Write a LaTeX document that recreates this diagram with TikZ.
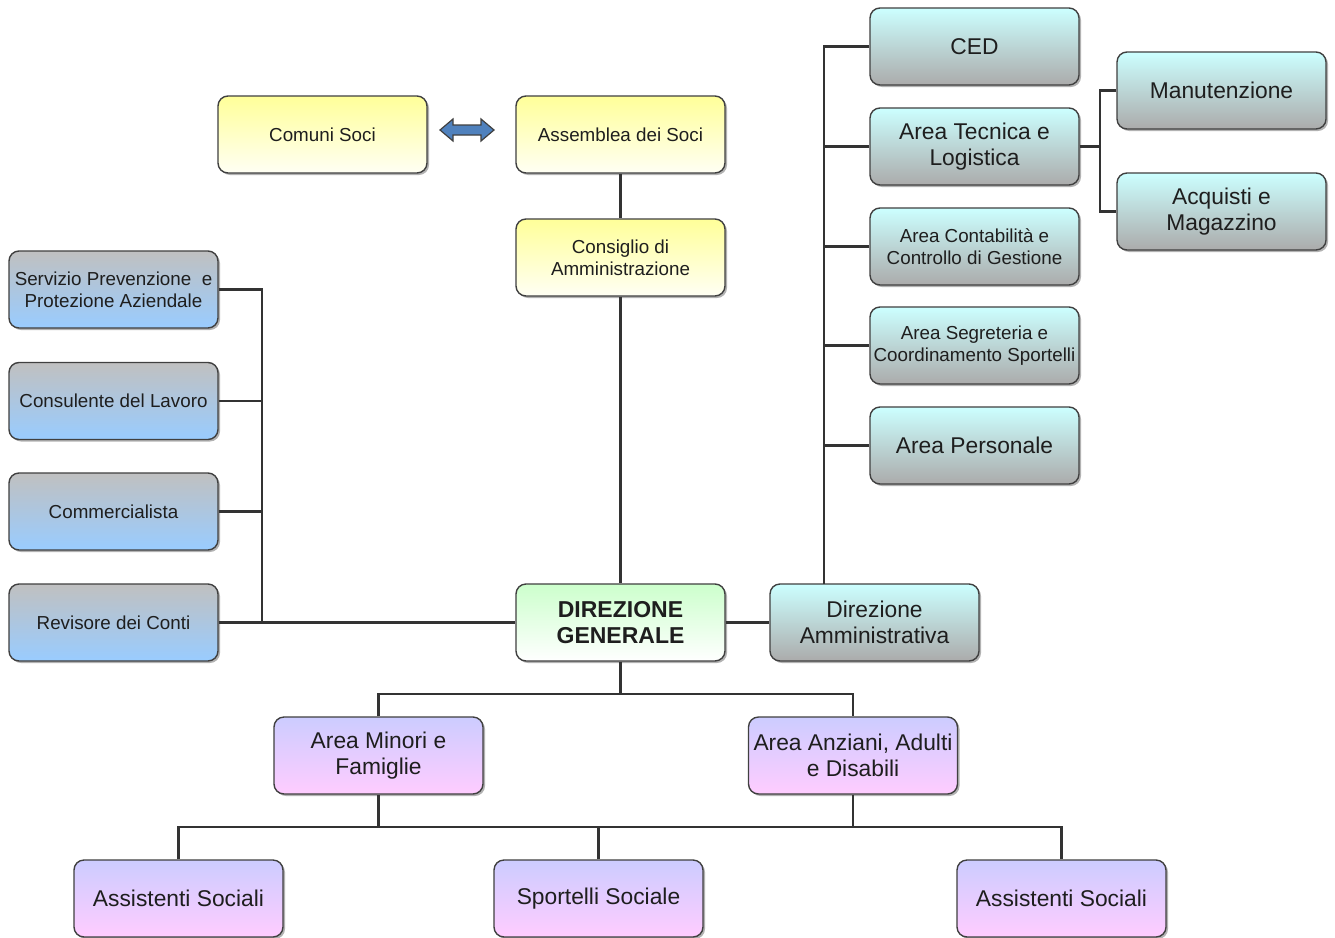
\documentclass[tikz,border=0pt]{standalone}
\usepackage{fontspec}
\setmainfont{Liberation Sans}
\usetikzlibrary{shadows}
\definecolor{boxline}{HTML}{404040}
\definecolor{conn}{HTML}{333333}
\definecolor{ylw}{HTML}{FFFF99}
\definecolor{ylwb}{HTML}{FFFFF4}
\definecolor{gryt}{HTML}{C0C0C0}
\definecolor{blub}{HTML}{99CCFF}
\definecolor{cyant}{HTML}{CCFFFF}
\definecolor{cyanb}{HTML}{ABABAB}
\definecolor{grnt}{HTML}{CCFFCC}
\definecolor{lavt}{HTML}{CCCCFF}
\definecolor{pinkb}{HTML}{FFCCFF}
\definecolor{arrblue}{HTML}{4F81BD}
\definecolor{txt}{HTML}{1E1E1E}
\tikzset{
  orgbox/.style={rectangle, rounded corners=10, draw=boxline, line width=1.4,
    minimum width=209, minimum height=77, inner sep=1, align=center, text=txt,
    drop shadow={shadow xshift=2pt, shadow yshift=-2pt, fill=black, opacity=0.3}},
  smalltxt/.style={font=\fontsize{18.8}{22}\selectfont},
  bigtxt/.style={font=\fontsize{22.8}{26}\selectfont},
  yellowbox/.style={orgbox, smalltxt, top color=ylw, bottom color=ylwb},
  bluebox/.style={orgbox, smalltxt, top color=gryt, bottom color=blub},
  cyanbox/.style={orgbox, top color=cyant, bottom color=cyanb},
  greenbox/.style={orgbox, top color=grnt, bottom color=white,
    font=\fontsize{23}{26}\selectfont\bfseries},
  purplebox/.style={orgbox, bigtxt, top color=lavt, bottom color=pinkb},
  link/.style={draw=conn, line width=2.4}
}
\begin{document}
\begin{tikzpicture}[x=1pt, y=-1pt]
\useasboundingbox[fill=white] (0,0) rectangle (1335,937);

% top yellow
\node[yellowbox] (cs)  at (322.5,134.5) {Comuni Soci};
\node[yellowbox] (ass) at (620.5,134.5) {Assemblea dei Soci};
\node[yellowbox] (cda) at (620.5,257.5) {Consiglio di\\Amministrazione};

% double arrow
\filldraw[fill=arrblue, draw=black!75, line width=1.2]
  (440,130) -- (453,119) -- (453,125) -- (481,125) -- (481,119) -- (494,130)
  -- (481,141) -- (481,135) -- (453,135) -- (453,141) -- cycle;

% left column
\node[bluebox] (spp) at (113.5,289.5) {Servizio Prevenzione \ e\\Protezione Aziendale};
\node[bluebox] (cdl) at (113.5,401)   {Consulente del Lavoro};
\node[bluebox] (com) at (113.5,511.5) {Commercialista};
\node[bluebox] (rev) at (113.5,622.5) {Revisore dei Conti};

% centre
\node[greenbox] (dg) at (620.5,622.5) {DIREZIONE\\GENERALE};
\node[cyanbox, bigtxt] (da) at (874.5,622.5) {Direzione\\Amministrativa};

% right column
\node[cyanbox, bigtxt]   (ced) at (974.5,46.5)  {CED};
\node[cyanbox, bigtxt]   (tec) at (974.5,146.5) {Area Tecnica e\\Logistica};
\node[cyanbox, smalltxt] (cont) at (974.5,246.5) {Area Contabilità e\\Controllo di Gestione};
\node[cyanbox, smalltxt] (seg) at (974.5,345.5) {Area Segreteria e\\Coordinamento Sportelli};
\node[cyanbox, bigtxt]   (per) at (974.5,445.5) {Area Personale};
\node[cyanbox, bigtxt]   (man) at (1221.5,90.5) {Manutenzione};
\node[cyanbox, bigtxt]   (acq) at (1221.5,211.5) {Acquisti e\\Magazzino};

% bottom
\node[purplebox] (amf) at (378.5,755.5) {Area Minori e\\Famiglie};
\node[purplebox] (aad) at (853,755.5)   {Area Anziani, Adulti\\e Disabili};
\node[purplebox] (as1) at (178.5,898.5) {Assistenti Sociali};
\node[purplebox] (sp)  at (598.5,898.5) {Sportelli Sociale};
\node[purplebox] (as2) at (1061.5,898.5) {Assistenti Sociali};

% helper coordinates
\coordinate (lb) at (262,622.5);
\coordinate (rb) at (824,584);
\coordinate (tb) at (1100,146.5);
\coordinate (mid) at (0,694);
\coordinate (low) at (0,827);

% connectors
\path[link] (ass.south) -- (cda.north);
\path[link] (cda.south) -- (dg.north);
\path[link] (dg.east) -- (da.west);

\path[link] (spp.east) -| (lb);
\path[link] (cdl.east) -- (cdl.east -| lb);
\path[link] (com.east) -- (com.east -| lb);
\path[link] (rev.east) -- (dg.west);

\path[link] (ced.west) -| (rb);
\path[link] (tec.west) -- (tec.west -| rb);
\path[link] (cont.west) -- (cont.west -| rb);
\path[link] (seg.west) -- (seg.west -| rb);
\path[link] (per.west) -- (per.west -| rb);

\path[link] (tec.east) -- (tb);
\path[link] (man.west) -| (tb) |- (acq.west);

\path[link] (dg.south) -- (dg.south |- mid);
\path[link] (amf.north) |- (mid -| aad.north) -- (aad.north);

\path[link] (amf.south) -- (amf.south |- low);
\path[link] (aad.south) -- (aad.south |- low);
\path[link] (as1.north) |- (low -| as2.north) -- (as2.north);
\path[link] (sp.north) -- (sp.north |- low);
\end{tikzpicture}
\end{document}
